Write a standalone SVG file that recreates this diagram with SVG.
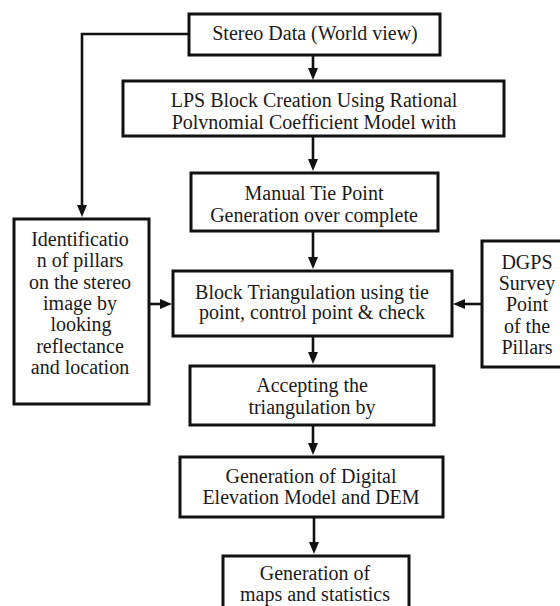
<svg xmlns="http://www.w3.org/2000/svg" width="560" height="606" viewBox="0 0 560 606">
<style>
.box{fill:#fff;stroke:#111;stroke-width:3}
.t{font-family:"Liberation Serif","Times New Roman",serif;font-size:20px;fill:#1a1a1a;text-anchor:middle}
.c{fill:none;stroke:#111;stroke-width:2.6}
</style>
<defs>
<marker id="ah" markerUnits="userSpaceOnUse" markerWidth="12" markerHeight="10" refX="6" refY="5" orient="auto">
<path d="M0,0 L12,5 L0,10 z" fill="#111"/>
</marker>
</defs>
<rect width="560" height="606" fill="#fff"/>
<g id="connectors">
<line class="c" x1="313" y1="56" x2="313" y2="74" marker-end="url(#ah)"/>
<line class="c" x1="313" y1="137" x2="313" y2="165" marker-end="url(#ah)"/>
<line class="c" x1="313" y1="232" x2="313" y2="263" marker-end="url(#ah)"/>
<line class="c" x1="313" y1="337" x2="313" y2="358" marker-end="url(#ah)"/>
<line class="c" x1="313" y1="426" x2="313" y2="449" marker-end="url(#ah)"/>
<line class="c" x1="314" y1="518" x2="314" y2="548" marker-end="url(#ah)"/>
<path class="c" d="M189,34 H82 V211" marker-end="url(#ah)"/>
<line class="c" x1="150" y1="304" x2="166" y2="304" marker-end="url(#ah)"/>
<line class="c" x1="481" y1="304" x2="459" y2="304" marker-end="url(#ah)"/>
</g>
<g id="stereo">
<rect class="box" x="189" y="14" width="251" height="41"/>
<text class="t" x="315" y="40">Stereo Data (World view)</text>
</g>
<g id="lps">
<rect class="box" x="123" y="81" width="381" height="55"/>
<text class="t" x="314" y="107">LPS Block Creation Using Rational</text>
<text class="t" x="314" y="129">Polvnomial Coefficient Model with</text>
</g>
<g id="manual">
<rect class="box" x="191" y="173" width="247" height="58"/>
<text class="t" x="314" y="200">Manual Tie Point</text>
<text class="t" x="314" y="222">Generation over complete</text>
</g>
<g id="ident">
<rect class="box" x="14" y="219" width="135" height="185"/>
<text class="t" x="80" y="246">Identificatio</text>
<text class="t" x="80" y="267">n of pillars</text>
<text class="t" x="80" y="289">on the stereo</text>
<text class="t" x="80" y="310">image by</text>
<text class="t" x="81" y="331"> looking</text>
<text class="t" x="80" y="353">reflectance</text>
<text class="t" x="80" y="374">and location</text>
</g>
<g id="block">
<rect class="box" x="173" y="271" width="279" height="65"/>
<text class="t" x="312" y="299">Block Triangulation using tie</text>
<text class="t" x="312" y="319">point, control point &amp; check</text>
</g>
<g id="dgps">
<rect class="box" x="482" y="241" width="92" height="126"/>
<text class="t" x="527" y="269">DGPS</text>
<text class="t" x="527" y="290">Survey</text>
<text class="t" x="527" y="311">Point</text>
<text class="t" x="527" y="333">of the</text>
<text class="t" x="527" y="354">Pillars</text>
</g>
<g id="accept">
<rect class="box" x="190" y="366" width="244" height="59"/>
<text class="t" x="312" y="392">Accepting the</text>
<text class="t" x="312" y="414">triangulation by</text>
</g>
<g id="dem">
<rect class="box" x="180" y="457" width="263" height="60"/>
<text class="t" x="311" y="483">Generation of Digital</text>
<text class="t" x="311" y="504">Elevation Model and DEM</text>
</g>
<g id="maps">
<rect class="box" x="223" y="556" width="186" height="70"/>
<text class="t" x="315" y="580">Generation of</text>
<text class="t" x="315" y="601">maps and statistics</text>
</g>
</svg>
